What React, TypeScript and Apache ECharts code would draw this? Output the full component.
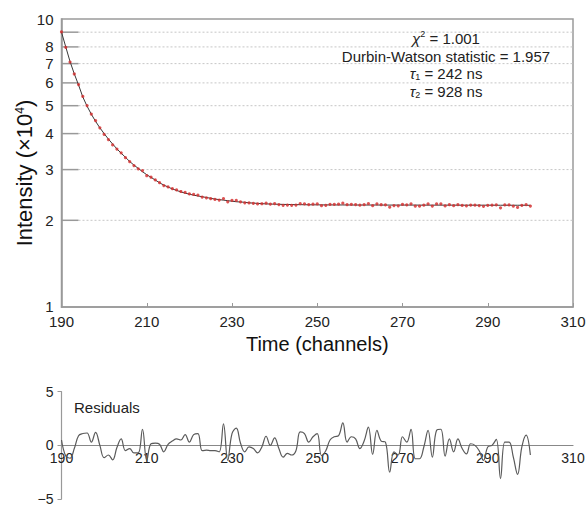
import React, { useEffect, useRef } from "react";
import * as echarts from "echarts";

const FONT = "'Liberation Sans', Arial, Helvetica, sans-serif";

// Time channels
const channels = [
  190, 191, 192, 193, 194, 195, 196, 197, 198, 199,
  200, 201, 202, 203, 204, 205, 206, 207, 208, 209,
  210, 211, 212, 213, 214, 215, 216, 217, 218, 219,
  220, 221, 222, 223, 224, 225, 226, 227, 228, 229,
  230, 231, 232, 233, 234, 235, 236, 237, 238, 239,
  240, 241, 242, 243, 244, 245, 246, 247, 248, 249,
  250, 251, 252, 253, 254, 255, 256, 257, 258, 259,
  260, 261, 262, 263, 264, 265, 266, 267, 268, 269,
  270, 271, 272, 273, 274, 275, 276, 277, 278, 279,
  280, 281, 282, 283, 284, 285, 286, 287, 288, 289,
  290, 291, 292, 293, 294, 295, 296, 297, 298, 299, 300,
];

// Measured intensity (×10^4)
const intensityData = [
  9.015, 7.972, 7.088, 6.442, 5.921, 5.385, 5.005, 4.676, 4.435, 4.19,
  3.977, 3.813, 3.655, 3.536, 3.431, 3.301, 3.195, 3.098, 3.018, 2.976,
  2.856, 2.822, 2.763, 2.702, 2.641, 2.612, 2.576, 2.549, 2.518, 2.5,
  2.47, 2.46, 2.447, 2.408, 2.393, 2.378, 2.363, 2.351, 2.38, 2.319,
  2.347, 2.344, 2.318, 2.301, 2.298, 2.291, 2.28, 2.283, 2.293, 2.278,
  2.286, 2.269, 2.255, 2.259, 2.255, 2.26, 2.285, 2.282, 2.269, 2.275,
  2.28, 2.248, 2.255, 2.27, 2.273, 2.275, 2.293, 2.266, 2.272, 2.269,
  2.256, 2.266, 2.286, 2.247, 2.281, 2.265, 2.264, 2.222, 2.25, 2.245,
  2.271, 2.264, 2.282, 2.24, 2.239, 2.256, 2.279, 2.242, 2.279, 2.281,
  2.243, 2.267, 2.249, 2.266, 2.253, 2.245, 2.259, 2.257, 2.25, 2.236,
  2.255, 2.256, 2.264, 2.21, 2.261, 2.261, 2.24, 2.216, 2.254, 2.269, 2.242,
];

// Fitted decay curve (×10^4)
const fitCurve = [
  9.0, 8.0, 7.12, 6.45, 5.9, 5.36, 4.98, 4.67, 4.41, 4.19,
  4.0, 3.83, 3.68, 3.54, 3.42, 3.31, 3.2, 3.11, 3.03, 2.95,
  2.88, 2.82, 2.76, 2.7, 2.65, 2.61, 2.57, 2.54, 2.51, 2.485,
  2.465, 2.445, 2.43, 2.415, 2.4, 2.385, 2.37, 2.36, 2.35, 2.34,
  2.33, 2.32, 2.315, 2.31, 2.3, 2.295, 2.29, 2.285, 2.28, 2.278,
  2.275, 2.273, 2.271, 2.27, 2.268, 2.267, 2.266, 2.265, 2.264, 2.263,
  2.263, 2.262, 2.262, 2.262, 2.261, 2.261, 2.261, 2.261, 2.26, 2.26,
  2.26, 2.26, 2.26, 2.26, 2.26, 2.259, 2.259, 2.259, 2.259, 2.259,
  2.259, 2.259, 2.259, 2.259, 2.258, 2.258, 2.258, 2.258, 2.258, 2.258,
  2.258, 2.258, 2.258, 2.257, 2.257, 2.257, 2.257, 2.257, 2.257, 2.257,
  2.257, 2.256, 2.256, 2.256, 2.256, 2.256, 2.256, 2.256, 2.256, 2.255, 2.255,
];

// Weighted residuals
const residuals = [
  0.5, -1.0, -1.2, -0.3, 0.9, 1.1, 1.15, 0.3, 1.2, 0.0,
  -1.15, -0.9, -1.35, -0.2, 0.6, -0.5, -0.3, -0.7, -0.7, 1.5,
  -1.4, 0.15, 0.2, 0.1, -0.6, 0.1, 0.4, 0.6, 0.5, 1.0,
  0.3, 1.0, 1.1, -0.5, -0.45, -0.5, -0.5, -0.6, 2.0, -1.4,
  1.1, 1.6, 0.2, -0.6, -0.15, -0.3, -0.7, -0.15, 0.85, 0.0,
  0.7, -0.3, -1.1, -0.75, -0.9, -0.5, 1.25, 1.1, 0.3, 0.8,
  1.1, -0.95, -0.5, 0.5, 0.8, 0.9, 2.1, 0.3, 0.8, 0.6,
  -0.3, 0.4, 1.7, -0.85, 1.4, 0.4, 0.3, -2.5, -0.6, -0.9,
  0.8, 0.3, 1.5, -1.25, -1.25, -0.15, 1.4, -1.1, 1.4, 1.5,
  -1.0, 0.6, -0.6, 0.6, -0.3, -0.8, 0.15, 0.0, -0.5, -1.4,
  -0.15, 0.0, 0.55, -3.1, 0.3, 0.3, -1.1, -2.7, -0.15, 0.95, -0.9,
];

// Axis settings
const xMin = 190;
const xMax = 310;
const xInterval = 20;
const yTickValues = [1, 2, 3, 4, 5, 6, 7, 8, 9, 10];
const yTickLabels = ["1", "2", "3", "4", "5", "6", "7", "8", "", "10"];
const residualMin = -5;
const residualMax = 5;
const residualInterval = 5;

// Annotation lines (rich text)
const annotationLines = [
  "{i|χ}{sup|2}{t| = 1.001}",
  "{t|Durbin-Watson statistic = 1.957}",
  "{i|τ}{sub|1}{t| = 242 ns}",
  "{i|τ}{sub|2}{t| = 928 ns}",
];

const RES_TOP = 391.7;
const RES_HEIGHT = 107.3;

export default function App() {
  const ref = useRef<HTMLDivElement>(null);

  useEffect(() => {
    if (!ref.current) return;
    const chart = echarts.init(ref.current, null, { renderer: "svg" });

    const option: any = {
      animation: false,
      textStyle: { fontFamily: FONT },
      grid: [
        {
          left: 61.5,
          top: 19,
          width: 511.5,
          height: 288,
          show: true,
          borderColor: "#9a9a9a",
          borderWidth: 1.5,
          backgroundColor: "transparent",
          containLabel: false,
          outerBoundsMode: "none",
        },
        {
          left: 61.5,
          top: RES_TOP,
          width: 511.5,
          height: RES_HEIGHT,
          containLabel: false,
          outerBoundsMode: "none",
        },
      ],
      xAxis: [
        {
          type: "value",
          gridIndex: 0,
          min: xMin,
          max: xMax,
          interval: xInterval,
          axisLine: { show: true, lineStyle: { color: "#999", width: 1.5 } },
          axisTick: { show: true, inside: true, length: 4, lineStyle: { color: "#999" } },
          axisLabel: { fontSize: 15, color: "#222", margin: 7, fontFamily: FONT },
          splitLine: { show: false },
          name: "Time (channels)",
          nameLocation: "middle",
          nameGap: 19,
          nameTextStyle: { fontSize: 20, color: "#111", fontFamily: FONT },
        },
        {
          type: "value",
          gridIndex: 1,
          position: "bottom",
          offset: -RES_HEIGHT / 2,
          min: xMin,
          max: xMax,
          interval: xInterval,
          axisLine: { show: true, onZero: false, lineStyle: { color: "#888", width: 1.2 } },
          axisTick: { show: false },
          axisLabel: { fontSize: 14, lineHeight: 12, color: "#222", margin: 7, fontFamily: FONT },
          splitLine: { show: false },
        },
      ],
      yAxis: [
        {
          type: "log",
          logBase: 10,
          gridIndex: 0,
          min: 1,
          max: 10,
          axisLine: { show: true, lineStyle: { color: "#999", width: 1.5 } },
          axisTick: { show: false },
          axisLabel: { show: false },
          splitLine: { show: false },
          name: "{n|Intensity (×10}{sup|4}{n|)}",
          nameLocation: "middle",
          nameGap: 26,
          nameTextStyle: {
            color: "#111",
            fontFamily: FONT,
            padding: [0, 20, 0, 0],
            rich: {
              n: { fontSize: 22, color: "#111", fontFamily: FONT },
              sup: { fontSize: 12, color: "#111", fontFamily: FONT, padding: [0, 0, 10, 0] },
            },
          },
        },
        {
          type: "value",
          gridIndex: 1,
          min: residualMin,
          max: residualMax,
          interval: residualInterval,
          axisLine: { show: true, onZero: false, lineStyle: { color: "#999", width: 1.2 } },
          axisTick: { show: true, length: 4, lineStyle: { color: "#999" } },
          axisLabel: {
            fontSize: 14,
            lineHeight: 12,
            color: "#222",
            margin: 8,
            fontFamily: FONT,
            padding: [0, 0, 2, 0],
            formatter: (v: number) => (v < 0 ? "\u2212" + Math.abs(v) : String(v)),
          },
          splitLine: { show: false },
        },
      ],
      series: [
        {
          name: "Fit",
          type: "line",
          xAxisIndex: 0,
          yAxisIndex: 0,
          data: channels.map((c, i) => [c, fitCurve[i]]),
          showSymbol: false,
          lineStyle: { color: "#3a3a3a", width: 1 },
          z: 2,
        },
        {
          name: "Data",
          type: "scatter",
          xAxisIndex: 0,
          yAxisIndex: 0,
          data: channels.map((c, i) => [c, intensityData[i]]),
          symbol: "circle",
          symbolSize: 3.2,
          itemStyle: { color: "#d42a2a" },
          z: 3,
        },
        {
          name: "Residuals",
          type: "line",
          xAxisIndex: 1,
          yAxisIndex: 1,
          data: channels.map((c, i) => [c, residuals[i]]),
          smooth: 0.4,
          showSymbol: false,
          lineStyle: { color: "#5a5a5a", width: 1.2 },
        },
      ],
    };

    chart.setOption(option);

    const x0 = chart.convertToPixel({ xAxisIndex: 0 }, xMin) as number;
    const x1 = chart.convertToPixel({ xAxisIndex: 0 }, xMax) as number;
    const els: any[] = [];
    yTickValues.forEach((v, i) => {
      const y = chart.convertToPixel({ yAxisIndex: 0 }, v) as number;
      if (v !== 1 && v !== 10) {
        els.push({
          type: "line",
          silent: true,
          shape: { x1: x0 + 17, y1: y, x2: x1, y2: y },
          style: { stroke: "#c6c6c6", lineWidth: 1, lineDash: [2, 2] },
        });
        els.push({
          type: "line",
          silent: true,
          shape: { x1: x0, y1: y, x2: x0 + 17, y2: y },
          style: { stroke: "#999", lineWidth: 1.5 },
        });
      }
      if (yTickLabels[i]) {
        els.push({
          type: "text",
          silent: true,
          x: x0 - 8,
          y: v === 1 ? y - 1 : y,
          style: {
            text: yTickLabels[i],
            align: "right",
            verticalAlign: "middle",
            fontSize: 15,
            lineHeight: 13,
            fontFamily: FONT,
            fill: "#222",
          },
        });
      }
    });

    const richStyle = {
      t: { fontSize: 15, fontFamily: FONT, fill: "#222", color: "#222" },
      i: { fontSize: 15, fontFamily: FONT, fontStyle: "italic", fill: "#222", color: "#222" },
      sup: { fontSize: 9, fontFamily: FONT, fill: "#222", color: "#222", padding: [0, 0, 8, 0] },
      sub: { fontSize: 9, fontFamily: FONT, fill: "#222", color: "#222", padding: [7, 0, 0, 0] },
    };
    const annotationY = [38, 56, 73.5, 91];
    annotationLines.forEach((line, i) => {
      els.push({
        type: "text",
        silent: true,
        x: 446,
        y: annotationY[i],
        style: {
          text: line,
          align: "center",
          verticalAlign: "middle",
          fontSize: 15,
          fontFamily: FONT,
          fill: "#222",
          rich: richStyle,
        },
      });
    });

    els.push({
      type: "text",
      silent: true,
      x: 74,
      y: 407,
      style: {
        text: "Residuals",
        align: "left",
        verticalAlign: "middle",
        fontSize: 15,
        fontFamily: FONT,
        fill: "#222",
      },
    });

    chart.setOption({ graphic: { elements: els } });

    return () => chart.dispose();
  }, []);

  return (
    <div
      ref={ref}
      style={{ position: "fixed", left: 0, top: 0, width: 586, height: 506, background: "#fff" }}
    />
  );
}
